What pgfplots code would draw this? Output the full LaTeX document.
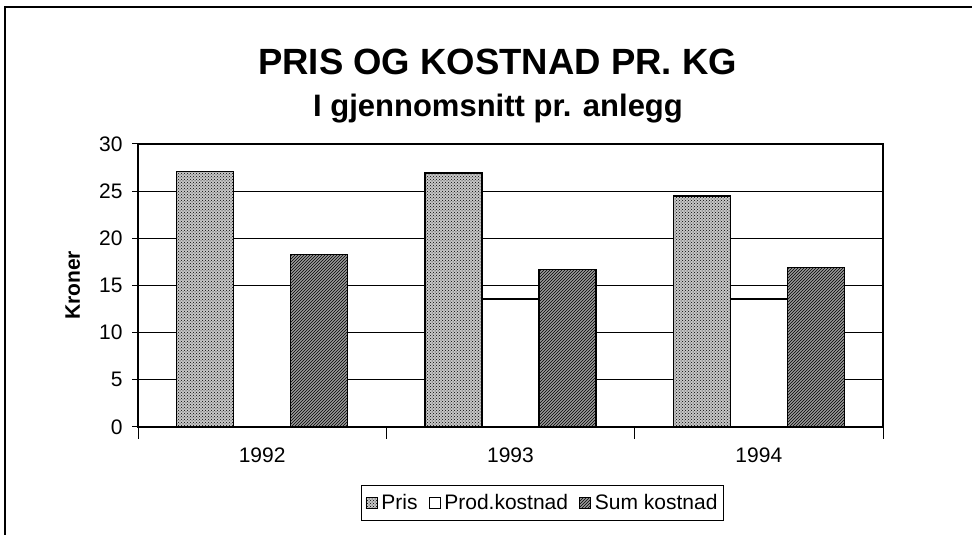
\documentclass[border=0pt]{standalone}
\usepackage{fontspec}
\setmainfont{Liberation Sans}
\usepackage{pgfplots}
\pgfplotsset{compat=1.18}
\usetikzlibrary{patterns}
\begin{document}
\begin{tikzpicture}[x=1pt,y=1pt]
\useasboundingbox (0,0) rectangle (972,535);
\draw[line width=1.5pt] (5,-2) -- (5,528) -- (975,528);
\node[font=\fontsize{36.5}{40}\selectfont\bfseries, anchor=base] at (497.5,460) {PRIS OG KOSTNAD PR. KG};
\node[font=\fontsize{31}{35}\selectfont\bfseries, anchor=base] at (498,418) {I gjennomsnitt pr. anlegg};
\begin{axis}[
  at={(138pt,108pt)}, anchor=south west,
  scale only axis, width=745pt, height=283pt,
  xmin=-0.5, xmax=2.5, ymin=0, ymax=30,
  ytick={0,5,...,30},
  xtick={-0.5,0.5,1.5,2.5},
  x tick label as interval,
  xticklabels={1992,1993,1994},
  xtick pos=bottom, ytick pos=left,
  tick align=center, major tick length=12pt,
  tick style={black, line width=1pt},
  ymajorgrids, grid style={black, line width=0.8pt},
  axis line style={line width=1.5pt},
  ybar=0pt, bar width=57pt,
  /pgf/number format/assume math mode=true,
  tick label style={font=\fontsize{21}{25}\selectfont},
  yticklabel style={xshift=-6pt},
  xticklabel style={yshift=-5pt},
  ylabel={\bfseries Kroner},
  ylabel style={at={(axis description cs:-0.0877,0.5)}, anchor=center, font=\fontsize{21}{25}\selectfont},
  legend style={at={(0.543,-0.2686)}, anchor=center, legend columns=-1,
    draw=black, line width=1pt, font=\fontsize{21}{25}\selectfont,
    inner xsep=4pt, inner ysep=7pt,
    /tikz/every odd column/.append style={column sep=2pt},
    /tikz/every even column/.append style={column sep=9pt}},
  legend image code/.code={\draw[#1,line width=0.8pt] (0pt,-5.5pt) rectangle (11pt,5.5pt);},
]
\addplot[draw=black, line width=1.6pt, fill=black!22, postaction={pattern=crosshatch dots}]
  coordinates {(0,27.1) (1,26.9) (2,24.5)};
\addplot[draw=black, line width=1.6pt, fill=white]
  coordinates {(0,15.0) (1,13.6) (2,13.6)};
\addplot[draw=black, line width=1.6pt, fill=black!40, postaction={pattern=north east lines}]
  coordinates {(0,18.3) (1,16.7) (2,16.9)};
\legend{Pris, Prod.kostnad, Sum kostnad}
\end{axis}
\end{tikzpicture}
\end{document}
